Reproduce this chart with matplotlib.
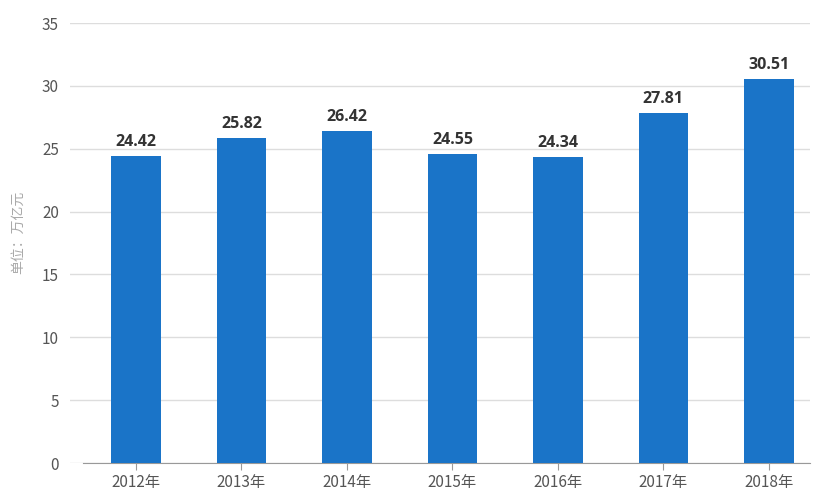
import matplotlib
matplotlib.use("Agg")
import matplotlib.pyplot as plt

plt.rcParams['font.family'] = ['Noto Sans CJK SC', 'DejaVu Sans']

years = ["2012年", "2013年", "2014年", "2015年", "2016年", "2017年", "2018年"]
values = [24.42, 25.82, 26.42, 24.55, 24.34, 27.81, 30.51]
yticks = [0, 5, 10, 15, 20, 25, 30, 35]

W, H = 818, 491
fig = plt.figure(figsize=(W / 100, H / 100), dpi=100)
ax = fig.add_axes([70 / W, (H - 463) / H, (810 - 70) / W, (463 - 23) / H])

x = list(range(len(years)))
ax.bar(x, values, width=0.47, color="#1a74c8", zorder=3)
for xi, v in zip(x, values):
    ax.text(xi, v + 0.5, f"{v:.2f}", ha="center", va="bottom",
            fontsize=11.5, fontweight="bold", color="#333333",
            family=["Open Sans", "DejaVu Sans"])

ax.set_xlim(-0.626, 6.39)
ax.set_ylim(0, 35)
ax.set_yticks(yticks)
ax.set_xticks(x)
ax.set_xticklabels(years)
ax.yaxis.grid(True, color="#dddddd", linewidth=1, zorder=0)
for s in ["top", "right", "left"]:
    ax.spines[s].set_visible(False)
ax.spines["bottom"].set_color("#999999")
ax.spines["bottom"].set_bounds(-0.5, 6.39)
ax.tick_params(axis="y", length=0, pad=8, labelsize=11, labelcolor="#555555")
ax.tick_params(axis="x", length=5, color="#999999", pad=3, labelsize=11, labelcolor="#555555")

fig.text(18 / W, 1 - 232 / H, "单位：万亿元", rotation=90, ha="center", va="center",
         fontsize=10, color="#aaaaaa")

fig.savefig("out.png", dpi=100)
